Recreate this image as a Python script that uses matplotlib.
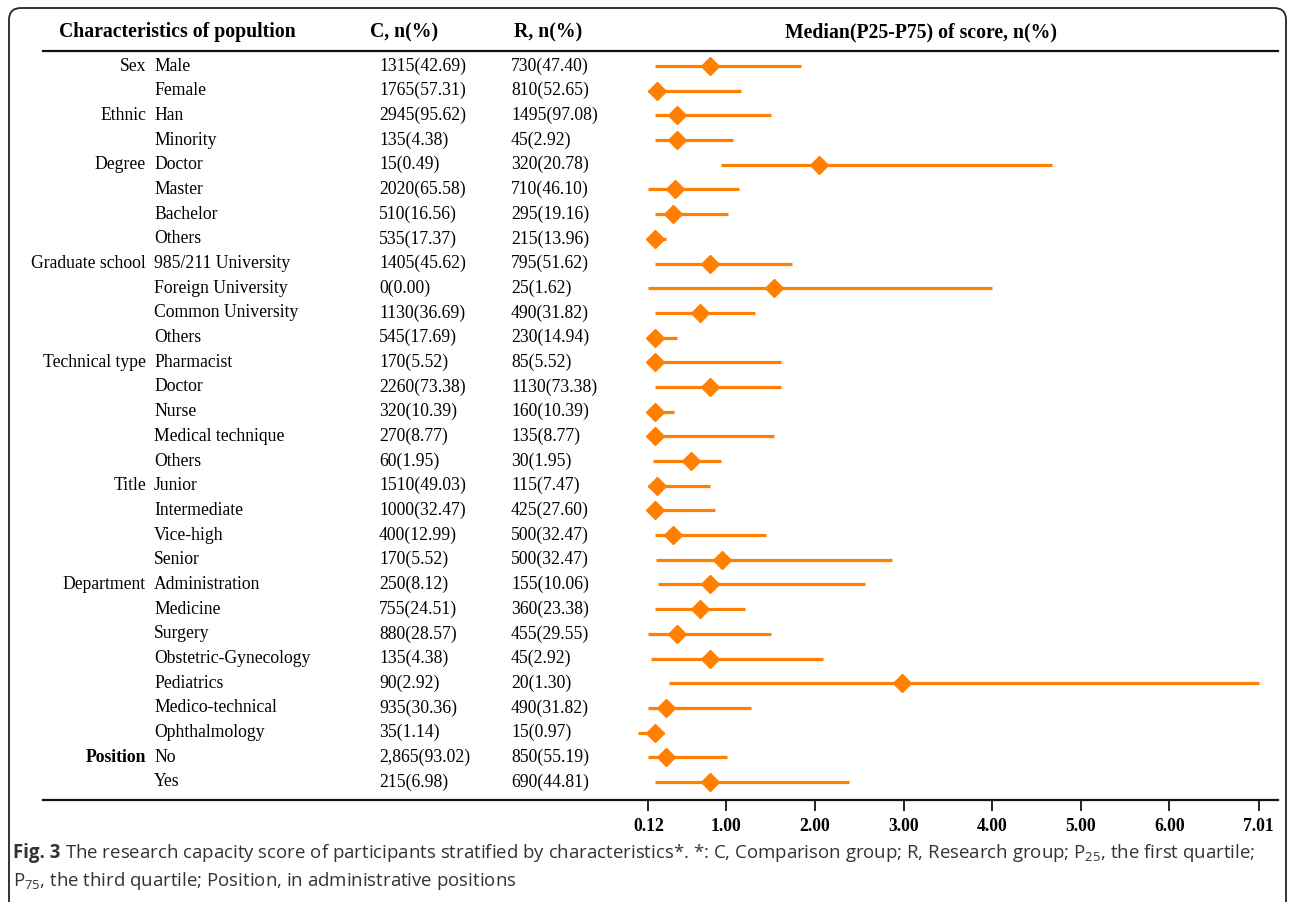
import matplotlib
matplotlib.use("Agg")
import matplotlib.pyplot as plt
import matplotlib.transforms as mtransforms
from matplotlib.patches import FancyBboxPatch

plt.rcParams.update({
    "font.family": "Liberation Serif",
    "mathtext.fontset": "custom",
    "mathtext.rm": "Open Sans",
})

# table data
groups = ["Sex", "", "Ethnic", "", "Degree", "", "", "",
          "Graduate school", "", "", "",
          "Technical type", "", "", "", "",
          "Title", "", "", "",
          "Department", "", "", "", "", "", "",
          "Position", ""]
subgroups = ["Male", "Female", "Han", "Minority", "Doctor", "Master", "Bachelor", "Others",
             "985/211 University", "Foreign University", "Common University", "Others",
             "Pharmacist", "Doctor", "Nurse", "Medical technique", "Others",
             "Junior", "Intermediate", "Vice-high", "Senior",
             "Administration", "Medicine", "Surgery", "Obstetric-Gynecology", "Pediatrics",
             "Medico-technical", "Ophthalmology",
             "No", "Yes"]
c_col = ["1315(42.69)", "1765(57.31)", "2945(95.62)", "135(4.38)", "15(0.49)", "2020(65.58)",
         "510(16.56)", "535(17.37)", "1405(45.62)", "0(0.00)", "1130(36.69)", "545(17.69)",
         "170(5.52)", "2260(73.38)", "320(10.39)", "270(8.77)", "60(1.95)",
         "1510(49.03)", "1000(32.47)", "400(12.99)", "170(5.52)",
         "250(8.12)", "755(24.51)", "880(28.57)", "135(4.38)", "90(2.92)", "935(30.36)",
         "35(1.14)", "2,865(93.02)", "215(6.98)"]
r_col = ["730(47.40)", "810(52.65)", "1495(97.08)", "45(2.92)", "320(20.78)", "710(46.10)",
         "295(19.16)", "215(13.96)", "795(51.62)", "25(1.62)", "490(31.82)", "230(14.94)",
         "85(5.52)", "1130(73.38)", "160(10.39)", "135(8.77)", "30(1.95)",
         "115(7.47)", "425(27.60)", "500(32.47)", "500(32.47)",
         "155(10.06)", "360(23.38)", "455(29.55)", "45(2.92)", "20(1.30)", "490(31.82)",
         "15(0.97)", "850(55.19)", "690(44.81)"]

# forest data (score)
medians = [0.81, 0.22, 0.44, 0.44, 2.05, 0.42, 0.40, 0.19, 0.81, 1.54, 0.70, 0.19,
           0.19, 0.81, 0.19, 0.19, 0.60, 0.22, 0.19, 0.40, 0.95, 0.81, 0.70, 0.44,
           0.81, 2.98, 0.32, 0.19, 0.32, 0.81]
p25 = [0.19, 0.11, 0.19, 0.19, 0.94, 0.11, 0.19, 0.19, 0.19, 0.11, 0.19, 0.19,
       0.19, 0.19, 0.19, 0.19, 0.17, 0.11, 0.19, 0.19, 0.20, 0.23, 0.19, 0.11,
       0.15, 0.35, 0.11, 0.00, 0.11, 0.19]
p75 = [1.84, 1.17, 1.50, 1.07, 4.68, 1.14, 1.02, 0.32, 1.74, 4.00, 1.32, 0.44,
       1.62, 1.62, 0.41, 1.54, 0.94, 0.81, 0.87, 1.45, 2.87, 2.56, 1.21, 1.50,
       2.09, 7.01, 1.28, 0.29, 1.01, 2.38]

xticks = [0.12, 1, 2, 3, 4, 5, 6, 7.01]
xtick_labels = ["0.12", "1.00", "2.00", "3.00", "4.00", "5.00", "6.00", "7.01"]

W, H = 1292, 902
ORANGE = "#FF8000"
FS = 12.7
HFS = 14.2

fig = plt.figure(figsize=(W / 100, H / 100), dpi=100)
ax = fig.add_axes([43 / W, 1 - 800 / H, (1278 - 43) / W, (800 - 51) / H])

n = len(subgroups)
rows = list(range(n))
ax.hlines(rows, p25, p75, color=ORANGE, lw=2.3)
ax.plot(medians, rows, "D", color=ORANGE, ms=9.2, mec=ORANGE, ls="none")

ax.set_xlim(-6.716, 7.228)
ax.set_ylim(n - 1 + 0.73, -0.61)
ax.set_xticks(xticks)
ax.set_xticklabels(xtick_labels, fontweight="bold", fontsize=FS)
ax.set_yticks([])
ax.tick_params(axis="x", length=8, width=1.3, pad=5, color="#111")
for s in ["left", "right"]:
    ax.spines[s].set_visible(False)
for s in ["top", "bottom"]:
    ax.spines[s].set_linewidth(1.6)
    ax.spines[s].set_color("#111")

# table text, x in figure fraction, y in data rows
tr = mtransforms.blended_transform_factory(fig.transFigure, ax.transData)
for i in rows:
    if groups[i]:
        ax.text(146 / W, i, groups[i], transform=tr, ha="right", va="center", fontsize=FS,
                fontweight="bold" if groups[i] == "Position" else "normal")
    ax.text(154 / W, i, subgroups[i], transform=tr, ha="left", va="center", fontsize=FS)
    ax.text(379 / W, i, c_col[i], transform=tr, ha="left", va="center", fontsize=FS)
    ax.text(511 / W, i, r_col[i], transform=tr, ha="left", va="center", fontsize=FS)

# headers
hy = 1 - 32 / H
fig.text(177 / W, hy, "Characteristics of popultion", ha="center", va="center",
         fontsize=HFS, fontweight="bold")
fig.text(370 / W, hy, "C, n(%)", ha="left", va="center", fontsize=HFS, fontweight="bold")
fig.text(514 / W, hy, "R, n(%)", ha="left", va="center", fontsize=HFS, fontweight="bold")
fig.text(921 / W, hy, "Median(P25-P75) of score, n(%)", ha="center", va="center",
         fontsize=HFS, fontweight="bold")

# frame
frame = FancyBboxPatch((9, -30), 1277, H - 8 + 30, boxstyle="round,pad=0,rounding_size=12",
                       transform=mtransforms.IdentityTransform(), fill=False, lw=1.3,
                       ec="#222222")
fig.patches.append(frame)

# caption
cap_color = "#333333"
cfs = 13.4
r = fig.canvas.get_renderer()
t1 = fig.text(13 / W, 1 - 853 / H, "Fig. 3", ha="left", va="center", fontsize=cfs,
              fontweight="bold", family="Open Sans", color=cap_color)
bb = t1.get_window_extent(renderer=r)
fig.text((bb.x1 + 5) / W, 1 - 853 / H,
         "The research capacity score of participants stratified by characteristics*. *: C, "
         "Comparison group; R, Research group; P$_{\\mathregular{25}}$, the first quartile;",
         ha="left", va="center", fontsize=cfs, family="Open Sans", color=cap_color)
fig.text(13 / W, 1 - 881 / H,
         "P$_{\\mathregular{75}}$, the third quartile; Position, in administrative positions",
         ha="left", va="center", fontsize=cfs, family="Open Sans", color=cap_color)

fig.savefig("out.png", dpi=100)
